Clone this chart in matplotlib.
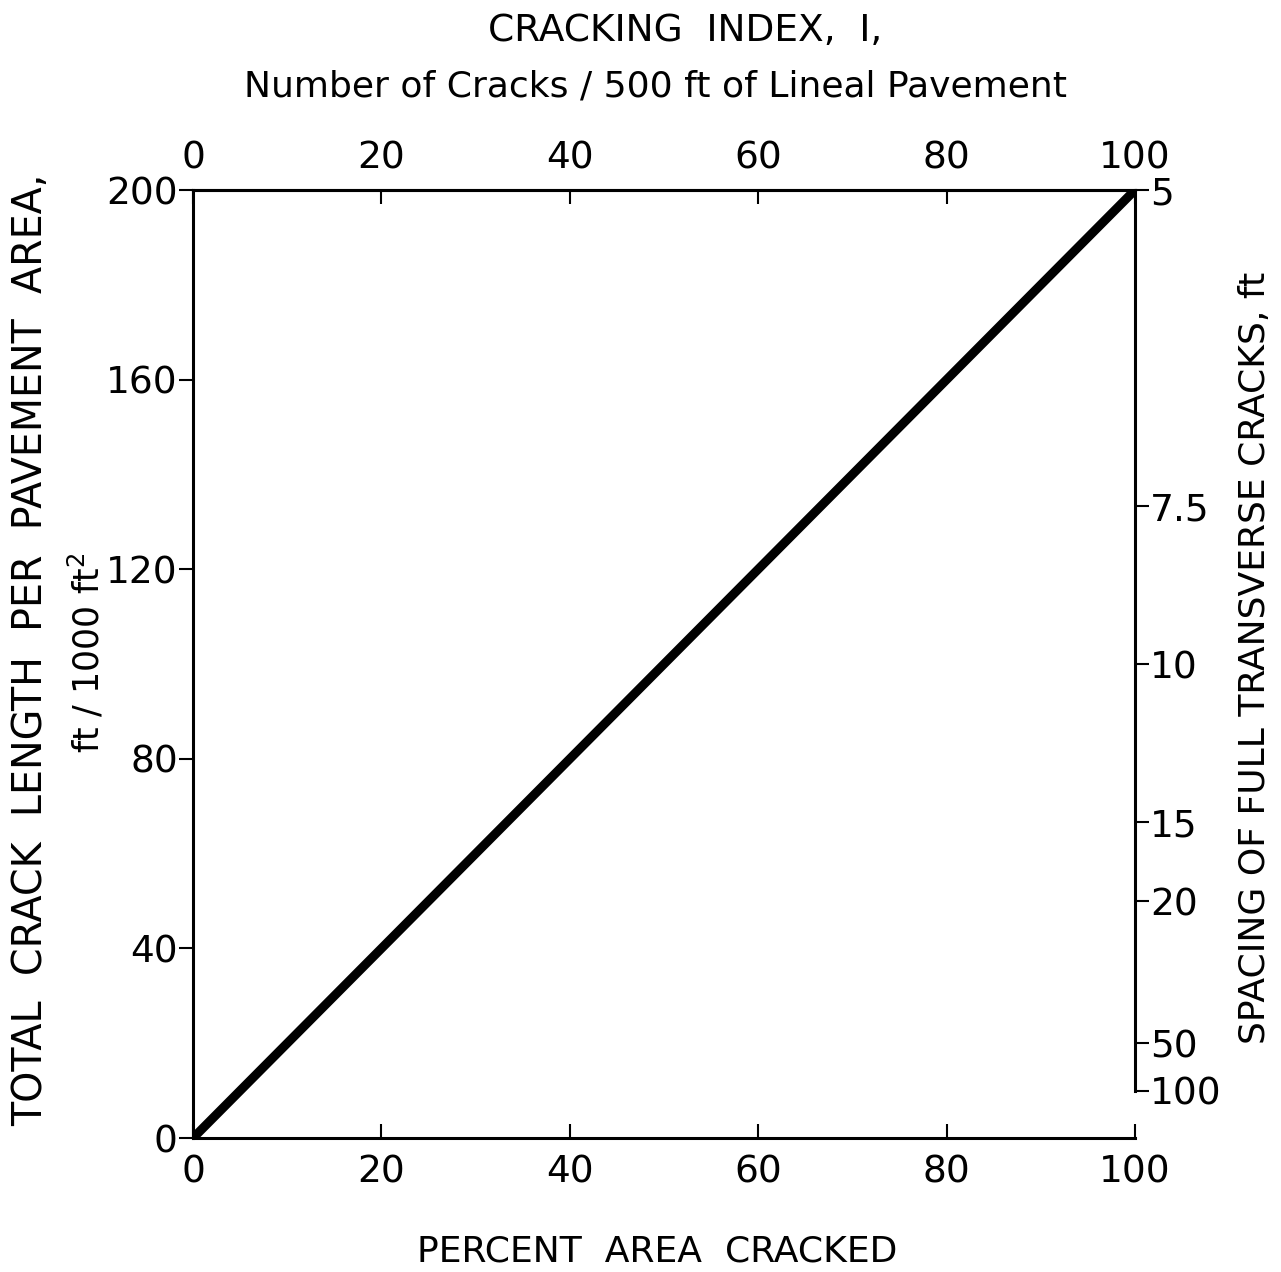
import matplotlib
matplotlib.use("Agg")
import matplotlib.pyplot as plt

# data
pct_area = [0, 100]          # percent area cracked
crack_len = [0, 200]         # ft / 1000 ft^2
top_ticks = [0, 20, 40, 60, 80, 100]   # cracking index
left_ticks = [0, 40, 80, 120, 160, 200]
bottom_ticks = [0, 20, 40, 60, 80, 100]
spacing_ft = [5, 7.5, 10, 15, 20, 50, 100]
spacing_labels = ["5", "7.5", "10", "15", "20", "50", "100"]

plt.rcParams['font.family'] = ['DejaVu Sans']
fs = 27

fig = plt.figure(figsize=(12.81, 12.72), dpi=100)
ax = fig.add_axes([0.1507, 0.1053, 0.7353, 0.7453])

ax.plot(pct_area, crack_len, color='black', lw=6.5, solid_capstyle='butt')
ax.set_xlim(0, 100)
ax.set_ylim(0, 200)

ax.set_xticks(bottom_ticks)
ax.set_yticks(left_ticks)
ax.tick_params(axis='x', direction='in', length=10, width=1.5, labelsize=fs, pad=12)
ax.tick_params(axis='y', direction='out', length=10, width=1.5, labelsize=fs, pad=1)
ax.spines['right'].set_visible(False)
for s in ['left', 'bottom', 'top']:
    ax.spines[s].set_linewidth(2.2)

# top axis: cracking index
top = ax.twiny()
top.set_xlim(0, 100)
top.set_xticks(top_ticks)
top.tick_params(axis='x', direction='in', length=10, width=1.5, labelsize=fs, pad=10)
for s in ['left', 'bottom', 'right']:
    top.spines[s].set_visible(False)
top.spines['top'].set_linewidth(2.2)

# right axis: spacing of cracks, spacing = 1000 / crack length
right = ax.twinx()
right.set_ylim(0, 200)
right.set_yticks([1000 / s for s in spacing_ft])
right.set_yticklabels(spacing_labels)
right.tick_params(axis='y', direction='out', length=10, width=1.5, labelsize=fs, pad=1)
for s in ['left', 'bottom', 'top']:
    right.spines[s].set_visible(False)
right.spines['right'].set_linewidth(2.2)
right.spines['right'].set_bounds(1000 / spacing_ft[-1], 200)

fig.text(0.535, 0.976, "CRACKING  INDEX,  I,", ha='center', va='center', fontsize=fs)
fig.text(0.512, 0.932, "Number of Cracks / 500 ft of Lineal Pavement",
         ha='center', va='center', fontsize=26)
fig.text(0.513, 0.016, "PERCENT  AREA  CRACKED", ha='center', va='center', fontsize=26)
fig.text(0.024, 0.489, "TOTAL  CRACK  LENGTH  PER  PAVEMENT  AREA,", rotation=90,
         ha='center', va='center', fontsize=28.5)
fig.text(0.068, 0.487, "ft / 1000 ft$^2$", rotation=90, ha='center', va='center', fontsize=25)
fig.text(0.98, 0.483, "SPACING OF FULL TRANSVERSE CRACKS, ft", rotation=90,
         ha='center', va='center', fontsize=26)

fig.savefig("out.png", dpi=100)
